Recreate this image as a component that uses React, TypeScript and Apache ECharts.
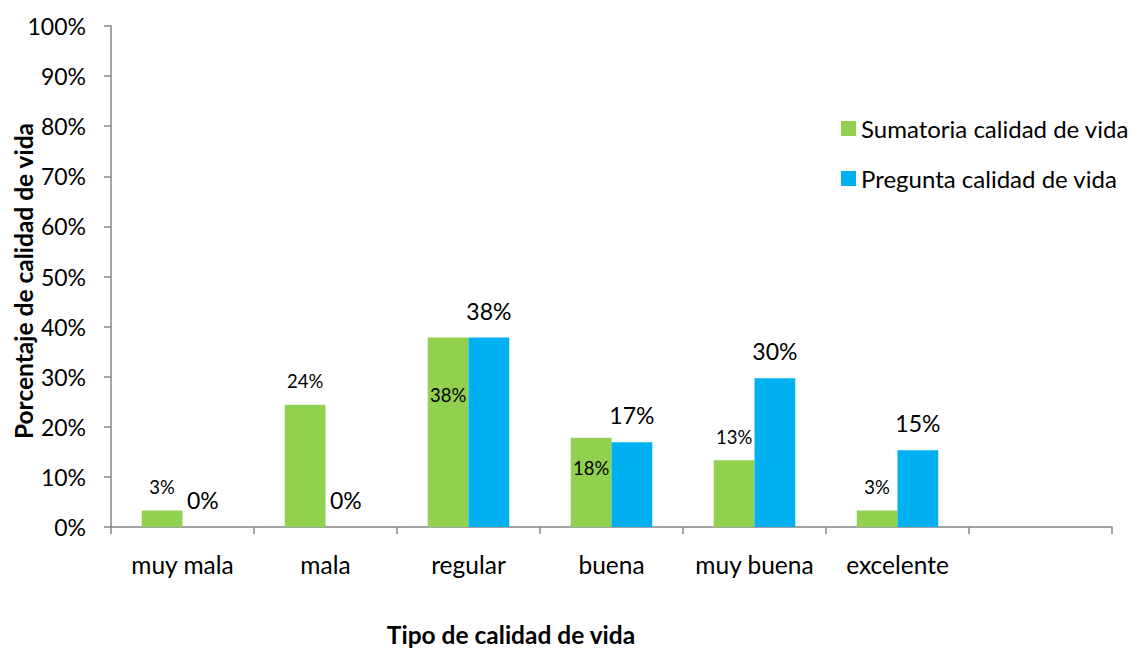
import React, { useEffect, useRef } from "react";
import * as echarts from "echarts";

const categories = ["muy mala", "mala", "regular", "buena", "muy buena", "excelente", ""];
const sumatoria = [3.3, 24.4, 37.8, 17.8, 13.3, 3.3];
const pregunta = [0, 0, 37.8, 16.9, 29.7, 15.3];
const yTicks = [0, 10, 20, 30, 40, 50, 60, 70, 80, 90, 100];
const seriesNames = ["Sumatoria calidad de vida", "Pregunta calidad de vida"];
const xTitle = "Tipo de calidad de vida";
const yTitle = "Porcentaje de calidad de vida";

const FONT = "Lato, 'Open Sans', sans-serif";

export default function App() {
  const ref = useRef<HTMLDivElement>(null);
  useEffect(() => {
    if (!ref.current) return;
    const chart = echarts.init(ref.current, undefined, { renderer: "svg" });
    const pct = (p: any) => Math.round(p.value) + "%";
    const greenData = sumatoria.map((v, i) => {
      if (i === 2) return { value: v, label: { position: "insideTop", distance: 48 } };
      if (i === 3) return { value: v, label: { position: "insideTop", distance: 21 } };
      return v;
    });
    chart.setOption({
      animation: false,
      textStyle: { fontFamily: FONT },
      grid: { left: 111, right: 31, top: 26, bottom: 121, containLabel: false, outerBoundsMode: "none" },
      legend: {
        orient: "vertical",
        left: 841,
        top: 116,
        padding: 0,
        itemWidth: 15,
        itemHeight: 15,
        itemGap: 25,
        icon: "rect",
        textStyle: { fontSize: 24, lineHeight: 25, color: "#000", fontFamily: FONT },
        data: seriesNames,
      },
      xAxis: {
        type: "category",
        data: categories,
        axisLine: { lineStyle: { color: "#868686", width: 1.5 } },
        axisTick: { show: true, length: 7, lineStyle: { color: "#868686", width: 1.5 } },
        axisLabel: { fontSize: 24.5, color: "#000", margin: 25, interval: 0, fontFamily: FONT },
        splitLine: { show: false },
      },
      yAxis: {
        type: "value",
        min: yTicks[0],
        max: yTicks[yTicks.length - 1],
        interval: 10,
        axisLine: { show: true, lineStyle: { color: "#868686", width: 1.5 } },
        axisTick: { show: true, length: 7, lineStyle: { color: "#868686", width: 1.5 } },
        axisLabel: { fontSize: 23, color: "#000", margin: 25, formatter: "{value}%", fontFamily: FONT },
        splitLine: { show: false },
      },
      graphic: [
        {
          type: "text",
          x: 511,
          y: 634,
          style: {
            text: xTitle,
            fontSize: 24.5,
            fontWeight: "bold",
            fill: "#000",
            fontFamily: FONT,
            align: "center",
            verticalAlign: "middle",
          },
        },
        {
          type: "text",
          x: 23,
          y: 281,
          rotation: Math.PI / 2,
          style: {
            text: yTitle,
            fontSize: 24.5,
            fontWeight: "bold",
            fill: "#000",
            fontFamily: FONT,
            align: "center",
            verticalAlign: "middle",
          },
        },
      ],
      series: [
        {
          name: seriesNames[0],
          type: "bar",
          data: greenData,
          itemStyle: { color: "#92D050" },
          barGap: "0%",
          barCategoryGap: "43%",
          label: {
            show: true,
            position: "top",
            distance: 14,
            fontSize: 18.5,
            color: "#000",
            fontFamily: FONT,
            formatter: pct,
          },
        },
        {
          name: seriesNames[1],
          type: "bar",
          data: pregunta,
          itemStyle: { color: "#00B0F0" },
          barGap: "0%",
          barCategoryGap: "43%",
          label: {
            show: true,
            position: "top",
            distance: 15.5,
            fontSize: 23,
            color: "#000",
            fontFamily: FONT,
            formatter: pct,
          },
        },
      ],
    });
    return () => chart.dispose();
  }, []);
  return (
    <div
      ref={ref}
      style={{ position: "fixed", left: 0, top: 0, width: 1143, height: 648, background: "#fff" }}
    />
  );
}
